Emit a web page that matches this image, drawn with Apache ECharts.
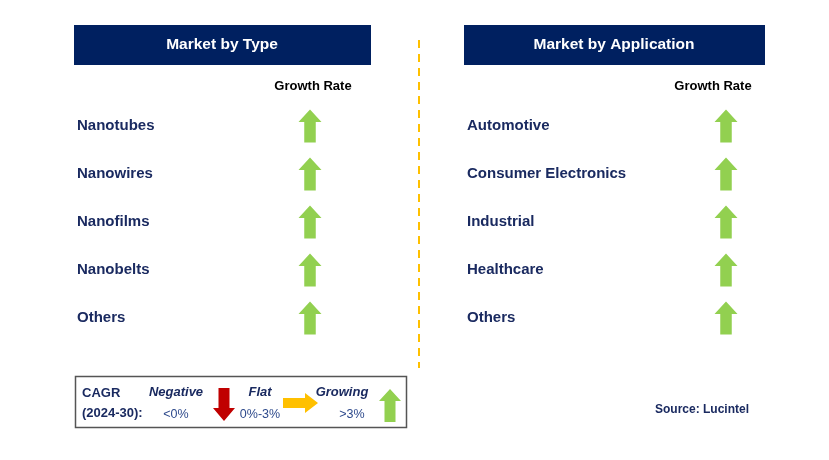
<!DOCTYPE html>
<html>
<head>
<meta charset="utf-8">
<script src="https://cdn.jsdelivr.net/npm/echarts@6/dist/echarts.min.js"></script>
<style>html,body{margin:0;padding:0;background:#fff}#c{width:829px;height:460px}</style>
</head>
<body>
<div id="c"></div>
<script>
const typeCategories = ['Nanotubes', 'Nanowires', 'Nanofilms', 'Nanobelts', 'Others'];
const typeGrowth = ['Growing', 'Growing', 'Growing', 'Growing', 'Growing'];
const appCategories = ['Automotive', 'Consumer Electronics', 'Industrial', 'Healthcare', 'Others'];
const appGrowth = ['Growing', 'Growing', 'Growing', 'Growing', 'Growing'];
const columnLabel = ['Growth Rate'];
const panelTitles = ['Market by Type', 'Market by Application'];

const NAVY = '#002060';
const TEXT = '#1A2A60';
const GREEN = '#92D050';
const UP = 'path://M11,0 L22,12 L16.5,12 L16.5,32 L5.5,32 L5.5,12 L0,12 Z';
const DOWN = 'path://M5.5,0 L16.5,0 L16.5,20 L22,20 L11,32 L0,20 L5.5,20 Z';
const symbolFor = { Growing: UP, Negative: DOWN, Flat: 'path://M0,5 L22,5 L22,0 L34,10 L22,20 L22,15 L0,15 Z' };
const colorFor = { Growing: GREEN, Negative: '#C00000', Flat: '#FFC000' };

function yAxisFor(idx, cats, margin) {
  return {
    type: 'category', gridIndex: idx, data: cats, inverse: true,
    axisLine: { show: false }, axisTick: { show: false }, splitLine: { show: false },
    axisLabel: { align: 'left', margin: margin, color: TEXT, fontFamily: 'Liberation Sans, Arial', fontWeight: 'bold', fontSize: 15 }
  };
}
function xAxisFor(idx, padding) {
  return {
    type: 'category', gridIndex: idx, data: columnLabel, position: 'top',
    axisLine: { show: false }, axisTick: { show: false }, splitLine: { show: false },
    axisLabel: { margin: 9, color: '#000', fontFamily: 'Liberation Sans, Arial', fontWeight: 'bold', fontSize: 13, padding: padding }
  };
}
function seriesFor(idx, cats, growth) {
  return {
    type: 'scatter', xAxisIndex: idx, yAxisIndex: idx,
    symbolSize: [23, 33], silent: true,
    data: cats.map((c, i) => ({
      value: [columnLabel[0], c],
      symbol: symbolFor[growth[i]],
      itemStyle: { color: colorFor[growth[i]], opacity: 1 }
    }))
  };
}

const txt = (x, y, text, o) => ({ type: 'text', x: x, y: y, style: Object.assign({ text: text, fontFamily: 'Liberation Sans, Arial', fill: TEXT }, o || {}) });
const poly = (pts, fill) => ({ type: 'polygon', shape: { points: pts }, style: { fill: fill } });

const chart = echarts.init(document.getElementById('c'), null, { renderer: 'canvas' });
chart.setOption({
  backgroundColor: '#fff',
  animation: false,
  grid: [
    { left: 250, width: 120, top: 102, height: 240 },
    { left: 666, width: 120, top: 102, height: 240 }
  ],
  xAxis: [xAxisFor(0, [0, 0, 0, 6]), xAxisFor(1, [0, 26, 0, 0])],
  yAxis: [yAxisFor(0, typeCategories, 173), yAxisFor(1, appCategories, 199)],
  series: [seriesFor(0, typeCategories, typeGrowth), seriesFor(1, appCategories, appGrowth)],
  graphic: [
    { type: 'rect', shape: { x: 74, y: 25, width: 297, height: 40 }, style: { fill: NAVY } },
    txt(222, 45, panelTitles[0], { fill: '#fff', fontSize: 15.5, fontWeight: 'bold', align: 'center', verticalAlign: 'middle' }),
    { type: 'rect', shape: { x: 464, y: 25, width: 301, height: 40 }, style: { fill: NAVY } },
    txt(614, 45, panelTitles[1], { fill: '#fff', fontSize: 15.5, fontWeight: 'bold', align: 'center', verticalAlign: 'middle' }),
    { type: 'line', shape: { x1: 419, y1: 40, x2: 419, y2: 368 }, style: { stroke: '#FFC000', lineWidth: 2, lineDash: [8, 6] } },
    { type: 'rect', shape: { x: 75.5, y: 376.5, width: 331, height: 51 }, style: { fill: '#fff', stroke: '#555', lineWidth: 1.5 } },
    txt(82, 393, 'CAGR', { fontSize: 13, fontWeight: 'bold', verticalAlign: 'middle' }),
    txt(82, 413, '(2024-30):', { fontSize: 13, fontWeight: 'bold', verticalAlign: 'middle' }),
    txt(176, 392, 'Negative', { fontSize: 13, fontWeight: 'bold', fontStyle: 'italic', align: 'center', verticalAlign: 'middle' }),
    txt(176, 415, '<0%', { fontSize: 12.5, fill: '#2E4A8C', align: 'center', verticalAlign: 'middle' }),
    poly([[218.5, 388], [229.5, 388], [229.5, 408], [235, 408], [224, 421], [213, 408], [218.5, 408]], '#C00000'),
    txt(260, 392, 'Flat', { fontSize: 13, fontWeight: 'bold', fontStyle: 'italic', align: 'center', verticalAlign: 'middle' }),
    txt(260, 415, '0%-3%', { fontSize: 12.5, fill: '#2E4A8C', align: 'center', verticalAlign: 'middle' }),
    poly([[283, 398], [305, 398], [305, 393], [318, 403], [305, 413], [305, 408], [283, 408]], '#FFC000'),
    txt(342, 392, 'Growing', { fontSize: 13, fontWeight: 'bold', fontStyle: 'italic', align: 'center', verticalAlign: 'middle' }),
    txt(352, 415, '>3%', { fontSize: 12.5, fill: '#2E4A8C', align: 'center', verticalAlign: 'middle' }),
    poly([[390, 389], [401, 401], [395.5, 401], [395.5, 422], [384.5, 422], [384.5, 401], [379, 401]], GREEN),
    txt(749, 410, 'Source: Lucintel', { fontSize: 12, fontWeight: 'bold', align: 'right', verticalAlign: 'middle' })
  ]
});
</script>
</body>
</html>
